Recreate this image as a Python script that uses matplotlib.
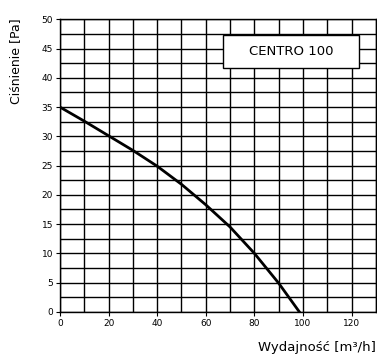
import matplotlib.pyplot as plt
from matplotlib.patches import Rectangle
from matplotlib.ticker import MultipleLocator

flow = [0, 10, 20, 30, 40, 50, 60, 70, 80, 90, 98.5]
pressure = [35, 32.6, 30.1, 27.6, 24.9, 21.8, 18.3, 14.5, 10, 4.9, 0]
model = "CENTRO 100"

fig = plt.figure(figsize=(3.77, 3.58), dpi=100)
ax = fig.add_axes([0.159, 0.129, 0.838, 0.817])

ax.plot(flow, pressure, color='black', linewidth=2.0, zorder=5)

ax.set_xlim(0, 130)
ax.set_ylim(0, 50)
ax.xaxis.set_major_locator(MultipleLocator(20))
ax.xaxis.set_minor_locator(MultipleLocator(10))
ax.yaxis.set_major_locator(MultipleLocator(5))
ax.yaxis.set_minor_locator(MultipleLocator(2.5))
ax.grid(which='both', color='black', linewidth=1.0)
ax.set_axisbelow(True)
ax.tick_params(which='major', length=3, width=0.8, labelsize=6.5, pad=2)
ax.tick_params(which='minor', length=0)
for s in ax.spines.values():
    s.set_linewidth(1.0)

# model name box
ax.add_patch(Rectangle((0.517, 0.834), 0.431, 0.111, transform=ax.transAxes,
                       facecolor='white', edgecolor='black', linewidth=1.0, zorder=6))
ax.text(0.7325, 0.8895, model, transform=ax.transAxes, ha='center', va='center',
        fontsize=9.5, zorder=7)

fig.text(0.04, 0.83, "Ciśnienie [Pa]", rotation=90, ha='center', va='center', fontsize=9)
fig.text(0.997, 0.028, "Wydajność [m³/h]", ha='right', va='center', fontsize=9.5)

plt.savefig("out.png", dpi=100)
